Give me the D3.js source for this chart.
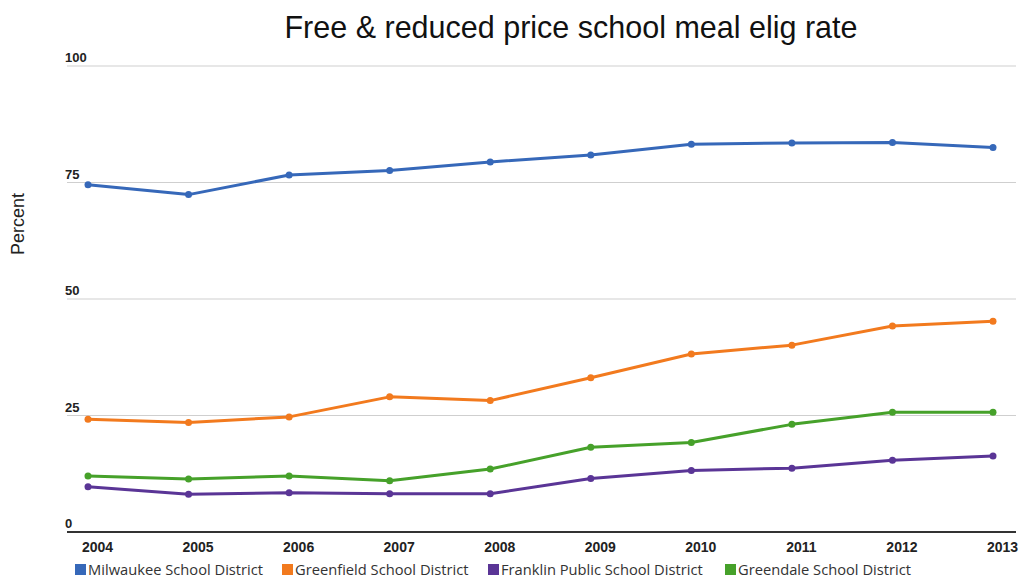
<!DOCTYPE html>
<html>
<head>
<meta charset="utf-8">
<script src="https://cdn.jsdelivr.net/npm/d3@7"></script>
<style>
  body { margin: 0; background: #fff; }
  svg { display: block; font-family: 'Liberation Sans', Arial, sans-serif; }
  .title { font-size: 30.5px; fill: #111; }
  .axis-label { font-size: 18px; fill: #222; }
  .ytick text { font-weight: bold; font-size: 13px; fill: #222; }
  .legend text { font-family: 'Open Sans', sans-serif; font-size: 14.7px; fill: #333; }
</style>
</head>
<body>
<svg width="1020" height="583"></svg>
<script>
const years = [2004, 2005, 2006, 2007, 2008, 2009, 2010, 2011, 2012, 2013];
const seriesNames = ['Milwaukee School District', 'Greenfield School District', 'Franklin Public School District', 'Greendale School District'];
const milwaukee = [74.5, 72.4, 76.6, 77.6, 79.4, 80.9, 83.2, 83.5, 83.6, 82.5];
const greenfield = [24.2, 23.5, 24.7, 29.0, 28.2, 33.1, 38.2, 40.1, 44.2, 45.2];
const franklin = [9.7, 8.1, 8.4, 8.2, 8.2, 11.5, 13.2, 13.7, 15.4, 16.3];
const greendale = [12.0, 11.4, 12.0, 11.0, 13.5, 18.2, 19.2, 23.1, 25.7, 25.7];
const yTicks = [0, 25, 50, 75, 100];
const colors = ['#3668b9', '#f27a1e', '#5a3596', '#46a12a'];

const svg = d3.select('svg');

const seriesValues = [milwaukee, greenfield, franklin, greendale];
const series = seriesNames.map((name, i) => ({
	name,
	color: colors[i],
	values: years.map((y, j) => ({ year: y, value: seriesValues[i][j] }))
}));

const xScale = d3.scalePoint().domain(years).range([88, 993]);
const yScale = d3.scaleLinear().domain([0, 100]).range([532, 66]);

// gridlines
svg.append('g')
	.selectAll('line')
	.data(yTicks.filter(d => d > 0))
	.enter()
	.append('line')
	.attr('x1', 67)
	.attr('x2', 1016)
	.attr('y1', d => yScale(d))
	.attr('y2', d => yScale(d))
	.attr('stroke', '#cfcfcf')
	.attr('stroke-width', 1.2);

// y tick labels
svg.append('g')
	.attr('class', 'ytick')
	.selectAll('text')
	.data(yTicks)
	.enter()
	.append('text')
	.attr('x', 65)
	.attr('y', d => yScale(d) - 4)
	.text(d => d);

// baseline
svg.append('line')
	.attr('x1', 67)
	.attr('x2', 1016)
	.attr('y1', yScale(0))
	.attr('y2', yScale(0))
	.attr('stroke', '#333')
	.attr('stroke-width', 2);

// x labels (sit a little right of the points, as in the original)
const xAxis = d3.axisBottom(xScale).tickSize(0).tickPadding(0);
const xAxisG = svg.append('g').attr('transform', `translate(9,${yScale(0)})`).call(xAxis);
xAxisG.select('.domain').remove();
xAxisG.selectAll('text')
	.attr('dy', null)
	.attr('y', 20)
	.style('font-family', "'Liberation Sans', Arial, sans-serif")
	.style('font-weight', 'bold')
	.style('font-size', '14px')
	.style('fill', '#222');

const lineGenerator = d3.line()
	.x(d => xScale(d.year))
	.y(d => yScale(d.value));

const seriesG = svg.selectAll('.series').data(series).enter().append('g').attr('class', 'series');

seriesG.append('path')
	.attr('d', d => lineGenerator(d.values))
	.attr('fill', 'none')
	.attr('stroke', d => d.color)
	.attr('stroke-width', 3)
	.attr('stroke-linejoin', 'round');

seriesG.selectAll('circle')
	.data(d => d.values.map(v => ({ ...v, color: d.color })))
	.enter()
	.append('circle')
	.attr('cx', d => xScale(d.year))
	.attr('cy', d => yScale(d.value))
	.attr('r', 3.5)
	.attr('fill', d => d.color);

// title
svg.append('text')
	.attr('class', 'title')
	.attr('x', 571)
	.attr('y', 38)
	.attr('text-anchor', 'middle')
	.text('Free & reduced price school meal elig rate');

// y axis label
svg.append('text')
	.attr('class', 'axis-label')
	.attr('transform', 'translate(24,224) rotate(-90)')
	.attr('text-anchor', 'middle')
	.text('Percent');

// legend
const legendX = [75, 282, 488, 725];
const legend = svg.append('g').attr('class', 'legend');
const items = legend.selectAll('g').data(series).enter().append('g')
	.attr('transform', (d, i) => `translate(${legendX[i]},564)`);
items.append('rect')
	.attr('width', 11)
	.attr('height', 11)
	.attr('fill', d => d.color);
items.append('text')
	.attr('x', 13)
	.attr('y', 11)
	.text(d => d.name);
</script>
</body>
</html>
